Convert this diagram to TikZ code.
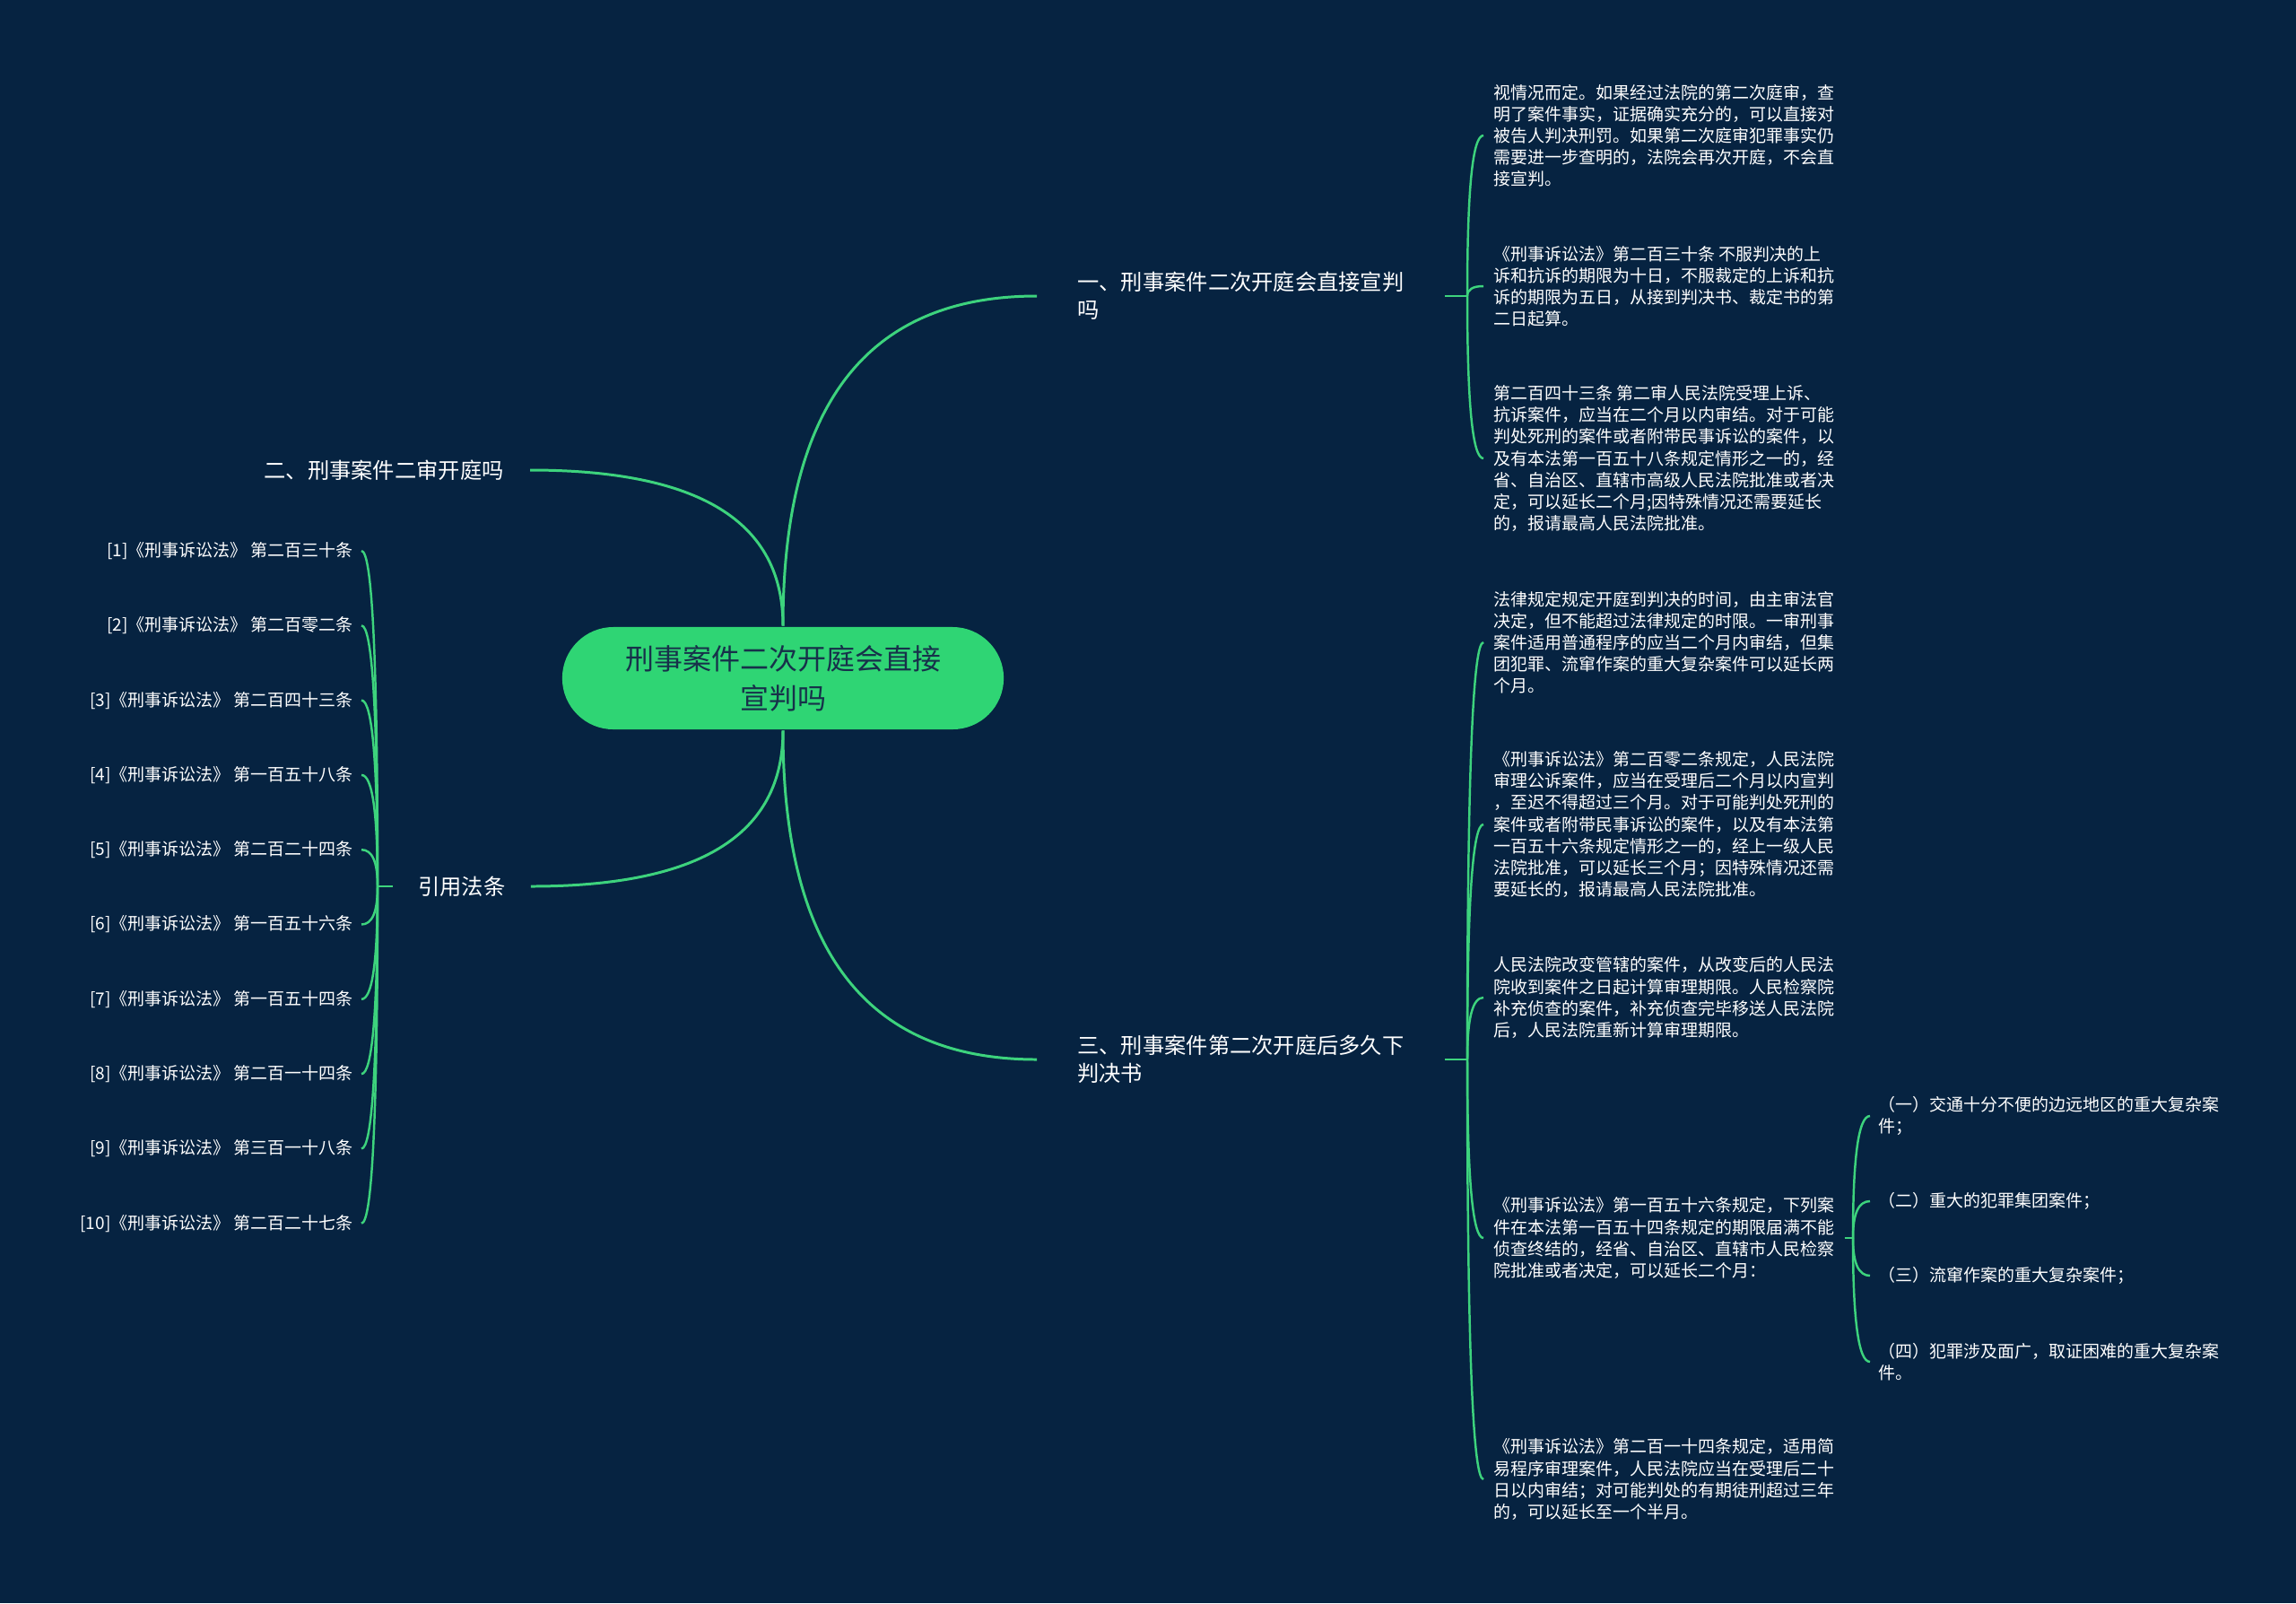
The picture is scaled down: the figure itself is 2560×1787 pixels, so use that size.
\documentclass[tikz,border=0pt]{standalone}
\usepackage{fontspec}
\setmainfont{Noto Sans CJK SC}
\usetikzlibrary{positioning, calc}
\definecolor{cbg}{HTML}{062341}
\definecolor{cgreen}{HTML}{2FD574}
\definecolor{cline}{HTML}{3DD37D}
\definecolor{cdark}{HTML}{17314A}
\tikzset{
  every picture/.style={line width=0.8pt},
  topic/.style={fill=cgreen, rounded corners=0.57cm, minimum width=4.92cm, minimum height=1.14cm, align=center, text=cdark, font=\fontsize{9.1}{12.5}\selectfont},
  branch/.style={text=white, align=left, inner ysep=2pt, font=\fontsize{6.9}{8.8}\selectfont},
  leaf/.style={text=white, align=left, inner ysep=2pt, inner xsep=0.1cm, font=\fontsize{5.4}{6.85}\selectfont},
  link/.style={draw=cline, line width=0.85pt},
  brace/.style={draw=cline, line width=0.7pt},
}
% smooth bend: leaves #2 upright, meets #3 level
\newcommand\bough[3]{\draw[#1] (#2) .. controls ($(#2)!0.67!(#2 |- #3)$) and ($(#3)!0.67!(#2 |- #3)$) .. (#3);}
% one arm of a bracket: from the joint to a child node
\newcommand\twig[2]{\bough{brace}{#1}{#2}}

\begin{document}
\begin{tikzpicture}[x=0.01cm, y=-0.01cm]
  \fill[cbg] (0,0) rectangle (2560,1787);
  \useasboundingbox (0,0) rectangle (2560,1787);
  % centre and the four main branches
  \node[topic] (root) at (873,756) {刑事案件二次开庭会直接\\宣判吗};
  \node[branch, anchor=west, inner xsep=0.44cm] (b1) at (1156,330) {一、刑事案件二次开庭会直接宣判\\吗};
  \node[branch, anchor=east, inner xsep=0.28cm] (b2) at (591,524) {二、刑事案件二审开庭吗};
  \node[branch, anchor=west, inner xsep=0.44cm] (b3) at (1156,1181) {三、刑事案件第二次开庭后多久下\\判决书};
  \node[branch, anchor=west, inner xsep=0.27cm] (refs) at (438,988) {引用法条};
  \bough{link}{root.north}{b1.west}
  \bough{link}{root.north}{b2.east}
  \bough{link}{root.south}{b3.west}
  \bough{link}{root.south}{refs.east}
  % branch one
  \node[leaf, anchor=west] (l1) at (1654,151) {视情况而定。如果经过法院的第二次庭审，查\\明了案件事实，证据确实充分的，可以直接对\\被告人判决刑罚。如果第二次庭审犯罪事实仍\\需要进一步查明的，法院会再次开庭，不会直\\接宣判。};
  \node[leaf, anchor=west] (l2) at (1654,319) {《刑事诉讼法》第二百三十条 不服判决的上\\诉和抗诉的期限为十日，不服裁定的上诉和抗\\诉的期限为五日，从接到判决书、裁定书的第\\二日起算。};
  \node[leaf, anchor=west] (l3) at (1654,511) {第二百四十三条 第二审人民法院受理上诉、\\抗诉案件，应当在二个月以内审结。对于可能\\判处死刑的案件或者附带民事诉讼的案件，以\\及有本法第一百五十八条规定情形之一的，经\\省、自治区、直辖市高级人民法院批准或者决\\定，可以延长二个月;因特殊情况还需要延长\\的，报请最高人民法院批准。};
  \coordinate (j1) at (1636,330);
  \draw[brace] (b1.east) -- (j1);
  \foreach \n in {l1,l2,l3} { \twig{j1}{\n.west} }
  % branch three
  \node[leaf, anchor=west] (l4) at (1654,716) {法律规定规定开庭到判决的时间，由主审法官\\决定，但不能超过法律规定的时限。一审刑事\\案件适用普通程序的应当二个月内审结，但集\\团犯罪、流窜作案的重大复杂案件可以延长两\\个月。};
  \node[leaf, anchor=west] (l5) at (1654,919) {《刑事诉讼法》第二百零二条规定，人民法院\\审理公诉案件，应当在受理后二个月以内宣判\\，至迟不得超过三个月。对于可能判处死刑的\\案件或者附带民事诉讼的案件，以及有本法第\\一百五十六条规定情形之一的，经上一级人民\\法院批准，可以延长三个月；因特殊情况还需\\要延长的，报请最高人民法院批准。};
  \node[leaf, anchor=west] (l6) at (1654,1112) {人民法院改变管辖的案件，从改变后的人民法\\院收到案件之日起计算审理期限。人民检察院\\补充侦查的案件，补充侦查完毕移送人民法院\\后，人民法院重新计算审理期限。};
  \node[leaf, anchor=west] (l7) at (1654,1380) {《刑事诉讼法》第一百五十六条规定，下列案\\件在本法第一百五十四条规定的期限届满不能\\侦查终结的，经省、自治区、直辖市人民检察\\院批准或者决定，可以延长二个月：};
  \node[leaf, anchor=west] (l8) at (1654,1649) {《刑事诉讼法》第二百一十四条规定，适用简\\易程序审理案件，人民法院应当在受理后二十\\日以内审结；对可能判处的有期徒刑超过三年\\的，可以延长至一个半月。};
  \coordinate (j3) at (1636,1181);
  \draw[brace] (b3.east) -- (j3);
  \foreach \n in {l4,l5,l6,l7,l8} { \twig{j3}{\n.west} }
  % the four cases under l7
  \node[leaf, anchor=west, inner xsep=0.08cm] (s1) at (2085,1244) {（一）交通十分不便的边远地区的重大复杂案\\件；};
  \node[leaf, anchor=west, inner xsep=0.08cm] (s2) at (2085,1339) {（二）重大的犯罪集团案件；};
  \node[leaf, anchor=west, inner xsep=0.08cm] (s3) at (2085,1422) {（三）流窜作案的重大复杂案件；};
  \node[leaf, anchor=west, inner xsep=0.08cm] (s4) at (2085,1518) {（四）犯罪涉及面广，取证困难的重大复杂案\\件。};
  \coordinate (j7) at (2066,1380);
  \draw[brace] (l7.east) -- (j7);
  \foreach \n in {s1,s2,s3,s4} { \twig{j7}{\n.west} }
  % cited articles
  \coordinate (jr) at (421,988);
  \draw[brace] (refs.west) -- (jr);
  \foreach \art [count=\i] in {第二百三十条, 第二百零二条, 第二百四十三条, 第一百五十八条, 第二百二十四条, 第一百五十六条, 第一百五十四条, 第二百一十四条, 第三百一十八条, 第二百二十七条} {
    \node[leaf, anchor=east, inner xsep=0.08cm] (ref\i) at (403,{530.7+83.3*\i}) {[\i]《刑事诉讼法》\ \art};
    \twig{jr}{ref\i.east}
  }
\end{tikzpicture}
\end{document}
